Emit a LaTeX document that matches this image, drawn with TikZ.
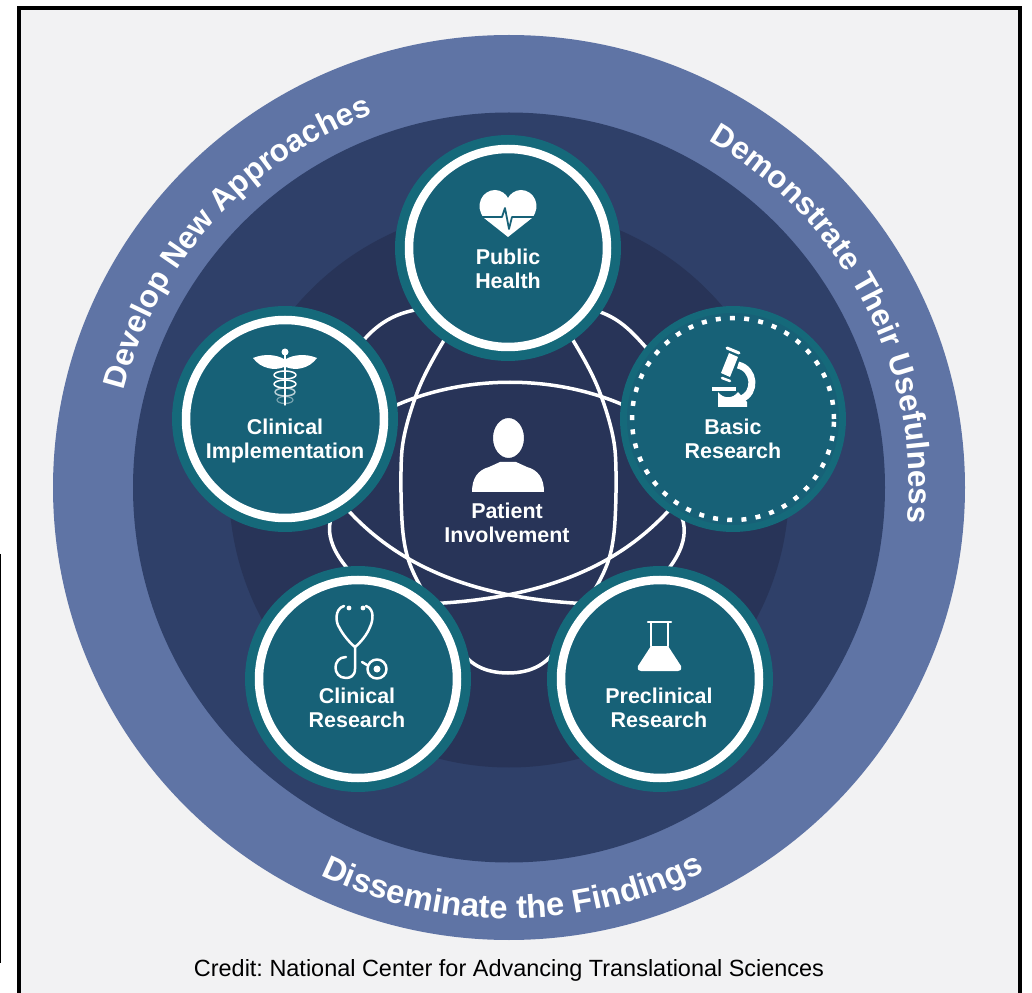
\documentclass[tikz,border=0pt]{standalone}
\usepackage{fontspec}
\setmainfont{Liberation Sans}
\usetikzlibrary{decorations.text}
\definecolor{pagegray}{HTML}{F2F2F3}
\definecolor{bandblue}{HTML}{5F74A5}
\definecolor{midblue}{HTML}{2F4069}
\definecolor{coreblue}{HTML}{283458}
\definecolor{hubteal}{HTML}{15697A}
\definecolor{fillteal}{HTML}{176177}
\newcommand{\arcfont}{\fontsize{17.9}{20}\selectfont\bfseries}
\newcommand{\lowarcfont}{\fontsize{18.7}{20}\selectfont\bfseries}
\tikzset{
  hub/.style={circle,fill=hubteal,inner sep=0pt,minimum size=4.52cm},
  ring/.style={draw=white,fill=fillteal,line width=0.17cm},
  dotring/.style={draw=white,line width=0.09cm,dash pattern=on 0.1cm off 0.185cm},
  strand/.style={draw=white,line width=0.07cm},
  hublabel/.style={text=white,align=center,font=\fontsize{12.2}{13.7}\selectfont\bfseries},
  bandlabel/.style={decorate,decoration={text along path,text color=white,text align=center,
    text={#1}}},
  icon/.style={white,line width=0.05cm,line cap=round,line join=round}
}
\begin{document}
\begin{tikzpicture}[x=0.02cm,y=0.02cm]
      \useasboundingbox (0,0) rectangle (1032,992);
      \draw[fill=pagegray,line width=0.08cm] (19,-5) -- (19,984) -- (1020,984) -- (1020,-5);
      \draw[line width=0.05cm] (0,438) -- (0,29);
      \coordinate (mid) at (509,504.5);
      \fill[bandblue] (mid) ellipse[x radius=456,y radius=452.5];
      \fill[midblue] (mid) ellipse[x radius=376,y radius=375];
      \fill[coreblue] (mid) circle (280);
      \begin{scope}[strand]
        \draw plot[smooth cycle] coordinates {(508,752) (443,650) (417,599) (402,542) (403,459)
          (417,412) (467,334) (508,319) (549,334) (600,412) (614,459) (615,542) (600,599) (574,650)};
        \draw (340,552) .. controls (430,629) and (590,629) .. (680,552);
        \draw (335,497) .. controls (400,415) and (500,383) .. (650,388);
        \draw (682,497) .. controls (617,415) and (517,383) .. (367,388);
        \draw (342,492) .. controls (322,470) and (325,445) .. (358,412);
        \draw (672,492) .. controls (690,470) and (690,445) .. (659,412);
        \draw (358,645) .. controls (375,667) and (395,682) .. (432,684);
        \draw (650,640) .. controls (632,660) and (618,678) .. (585,684);
      \end{scope}
      \draw
        (508,744) node[hub] (health){}
        (733,573) node[hub] (basic){}
        (285,573) node[hub] (implement){}
        (358,313) node[hub] (clinical){}
        (660,313) node[hub] (preclinical){};
      \draw[ring] (health.center) circle (99);
      \draw[ring] (implement.center) circle (99);
      \draw[ring] (clinical.center) circle (99);
      \draw[ring] (preclinical.center) circle (99);
      \fill[fillteal] (basic.center) circle (106);
      \draw[dotring] (basic.center) circle (101);
      \node[hublabel] (healthtext) at (508,723) {Public\\Health};
      \node[hublabel] (basictext) at (733,553) {Basic\\Research};
      \node[hublabel] (implementtext) at (285,551) {Clinical\\Implementation};
      \node[hublabel] (clinicaltext) at (357,284) {Clinical\\Research};
      \node[hublabel] (preclinicaltext) at (659,284) {Preclinical\\Research};
      \node[hublabel] (patienttext) at (507,469) {Patient\\Involvement};
      \node[font=\fontsize{13.35}{15}\selectfont\frenchspacing] (credit) at (509,22) {Credit: National Center for Advancing Translational Sciences};
      \path[bandlabel={|\arcfont|Develop New Approaches}] ([shift={(178:397)}]mid) arc[start angle=178,end angle=98,radius=397];
      \path[bandlabel={|\arcfont|Demonstrate Their Usefulness}] ([shift={(69.5:400)}]mid) arc[start angle=69.5,end angle=-14.5,radius=400];
      \path[bandlabel={|\lowarcfont|Disseminate the Findings}] ([shift={(-130:431)}]mid) arc[start angle=-130,end angle=-49,radius=431];
      \begin{scope}[shift={(health.center)},icon]
        \fill (0,11) -- (-24,30) .. controls (-34,42) and (-26,58) .. (-13,58) .. controls (-7,58) and (-2,54) .. (0,50)
          .. controls (2,54) and (7,58) .. (13,58) .. controls (26,58) and (34,42) .. (24,30) -- cycle;
        \draw[fillteal,line width=0.035cm] (-28,31) -- (-6,31) -- (-3,40) -- (1,19) -- (4,31) -- (28,31);
      \end{scope}
      \begin{scope}[shift={(508,512)},icon]
        \fill (-36,-12) .. controls (-36,2) and (-30,10) .. (-19,13) -- (-8,18) -- (8,18) -- (19,13)
          .. controls (30,10) and (36,2) .. (36,-12) -- cycle;
        \draw[fill=white,draw=coreblue,line width=0.04cm] (0.5,42) ellipse[x radius=16.5,y radius=21];
      \end{scope}
      \begin{scope}[shift={(basic.center)},icon]
        \draw[line width=0.06cm] (-6,71) -- (6,66);
        \fill (-4,66) -- (5,62) -- (-3,42) -- (-12,46) -- cycle;
        \draw[line width=0.05cm] (-11,41) -- (-3,38);
        \draw[line width=0.14cm,line cap=butt] (5,54) .. controls (22,50) and (24,26) .. (8,20);
        \fill (-21,32) -- (3,32) -- (3,28) -- (-21,28) -- cycle;
        \fill (-15,27) .. controls (-10,20) and (0,20) .. (5,27) -- (14,17) -- (14,12) -- (-15,12) -- cycle;
      \end{scope}
      \begin{scope}[shift={(implement.center)},icon]
        \fill (0,67) circle (3.5);
        \fill (-32,61) .. controls (-20,66) and (-8,64) .. (-1,60) -- (-1,52) .. controls (-10,48) and (-24,50) .. cycle;
        \fill (32,61) .. controls (20,66) and (8,64) .. (1,60) -- (1,52) .. controls (10,48) and (24,50) .. cycle;
        \draw[line width=0.03cm] (0,64) -- (0,14);
        \draw[line width=0.03cm] (0,44) ellipse[x radius=11,y radius=4];
        \draw[line width=0.03cm] (0,35) ellipse[x radius=11,y radius=4];
        \draw[line width=0.03cm,opacity=0.7] (0,27) ellipse[x radius=10,y radius=4];
        \draw[line width=0.025cm,opacity=0.4] (0,19) ellipse[x radius=8,y radius=3.5];
      \end{scope}
      \begin{scope}[shift={(clinical.center)},icon]
        \fill (-9,71) circle (2.4);
        \fill (5,71) circle (2.4);
        \draw (-14,73) .. controls (-24,70) and (-22,56) .. (-19,52) .. controls (-15,44) and (-8,36) .. (-3,32)
          .. controls (2,36) and (9,44) .. (12,52) .. controls (15,58) and (17,70) .. (8,73);
        \draw (-3,32) -- (-3,10) .. controls (-3,3) and (-8,1) .. (-12,1) .. controls (-26,1) and (-26,22) .. (-12,22);
        \draw (4,17) -- (9,14);
        \draw (19,10) circle (9.5);
        \fill (19,10) circle (3.5);
      \end{scope}
      \begin{scope}[shift={(preclinical.center)},icon]
        \draw (-12,57) -- (11,57);
        \draw (-9,57) -- (-9,33);
        \draw (8,57) -- (8,33);
        \fill (-9,33) -- (8,33) -- (21,13) .. controls (22,9) and (20,8) .. (18,8) -- (-19,8) .. controls (-21,8) and (-23,9) .. (-22,13) -- cycle;
      \end{scope}
    \end{tikzpicture}
\end{document}
